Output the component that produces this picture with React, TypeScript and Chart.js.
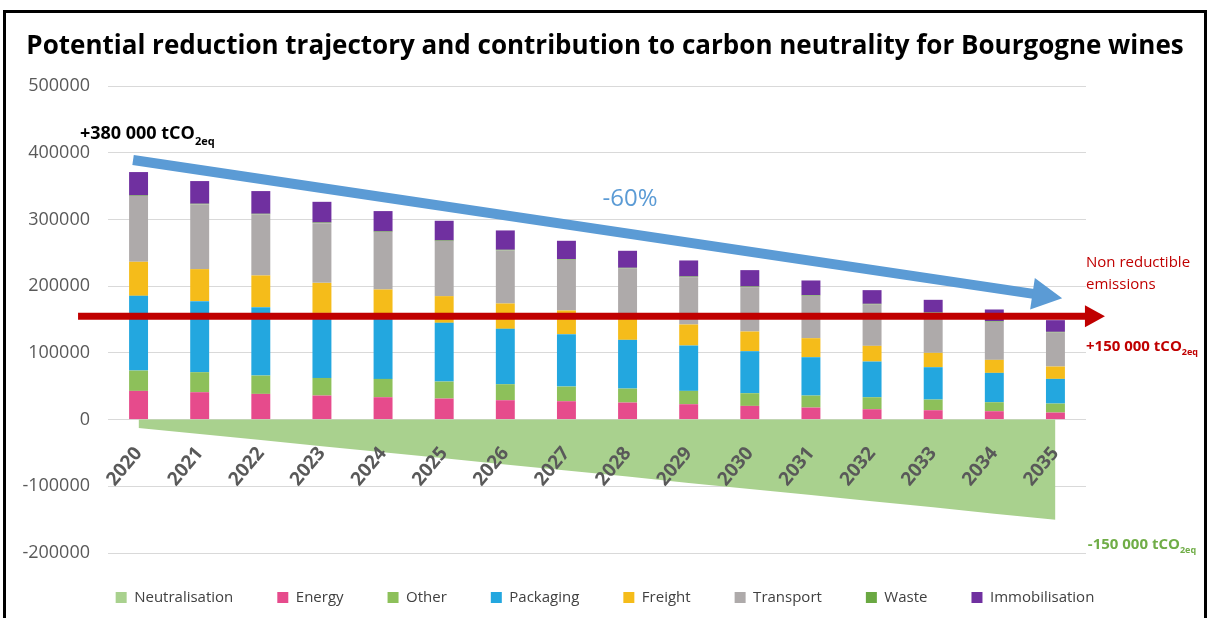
import React, { useEffect, useRef } from "react";
import { Chart, registerables } from "chart.js";

Chart.register(...registerables);

// ---- Data ----
const years = ["2020", "2021", "2022", "2023", "2024", "2025", "2026", "2027", "2028", "2029", "2030", "2031", "2032", "2033", "2034", "2035"];
const energy = [43000, 41000, 38500, 36000, 33500, 31500, 29000, 27500, 25500, 23000, 20500, 18000, 15500, 14000, 12500, 10500];
const other = [30500, 30000, 27500, 26400, 27500, 25500, 24000, 22000, 21000, 20000, 19000, 18000, 18000, 16000, 13500, 13500];
const packaging = [112000, 106500, 102500, 97500, 91000, 88000, 83000, 78500, 73000, 68000, 63000, 57500, 53500, 48500, 44000, 37000];
const freight = [51000, 48000, 47500, 45000, 43000, 40000, 38000, 35500, 31500, 31500, 29500, 28500, 23500, 21500, 19500, 18500];
const transport = [98500, 97000, 91500, 89500, 86000, 82500, 79500, 76000, 75500, 71000, 66500, 63500, 62000, 59500, 57000, 51000];
const waste = [1000, 1000, 1000, 1000, 1000, 1000, 1000, 1000, 1000, 1000, 1000, 1000, 1000, 1000, 1000, 1000];
const immobilisation = [35000, 34000, 34000, 31000, 30500, 29500, 29000, 27500, 25500, 24000, 24500, 22000, 20500, 19000, 17500, 17500];
const neutralisation = [-12500, -21500, -30500, -40000, -49000, -58000, -67500, -76500, -85500, -95000, -104000, -113000, -122500, -131500, -141000, -150000];

const yMin = -200000;
const yMax = 500000;
const yStep = 100000;

const TITLE = "Potential reduction trajectory and contribution to carbon neutrality for Bourgogne wines";

// ---- Annotations (in data coordinates: x = category index, y = value) ----
const reductionArrow = { from: [-0.09, 389000], to: [15.11, 182000], color: "#5b9bd5", width: 10, headLen: 30, headHalf: 16 };
const floorArrow = { from: [-0.99, 155000], to: [15.81, 155000], color: "#c00000", width: 7, headLen: 20, headHalf: 11 };
const notes = [
  { x: -0.96, y: 420000, main: "+380 000 tCO", sub: "2eq", color: "#000000", size: 18, bold: true, align: "left" },
  { x: 8.04, y: 320000, main: "-60%", sub: "", color: "#5b9bd5", size: 24, bold: false, align: "center" },
  { x: 15.5, y: 228700, main: "Non reductible", sub: "", color: "#c00000", size: 15, bold: false, align: "left" },
  { x: 15.5, y: 195700, main: "emissions", sub: "", color: "#c00000", size: 15, bold: false, align: "left" },
  { x: 15.5, y: 103000, main: "+150 000 tCO", sub: "2eq", color: "#c00000", size: 15, bold: true, align: "left" },
  { x: 15.53, y: -194000, main: "-150 000 tCO", sub: "2eq", color: "#70ad47", size: 15, bold: true, align: "left" },
];

const FONT = "'Open Sans', 'DejaVu Sans', sans-serif";

function drawArrow(ctx: CanvasRenderingContext2D, x1: number, y1: number, x2: number, y2: number, a: any) {
  const dx = x2 - x1;
  const dy = y2 - y1;
  const len = Math.sqrt(dx * dx + dy * dy);
  const ux = dx / len;
  const uy = dy / len;
  const bx = x2 - ux * a.headLen;
  const by = y2 - uy * a.headLen;
  ctx.save();
  ctx.strokeStyle = a.color;
  ctx.fillStyle = a.color;
  ctx.lineWidth = a.width;
  ctx.lineCap = "butt";
  ctx.beginPath();
  ctx.moveTo(x1, y1);
  ctx.lineTo(bx + ux * 1, by + uy * 1);
  ctx.stroke();
  ctx.beginPath();
  ctx.moveTo(x2, y2);
  ctx.lineTo(bx - uy * a.headHalf, by + ux * a.headHalf);
  ctx.lineTo(bx + uy * a.headHalf, by - ux * a.headHalf);
  ctx.closePath();
  ctx.fill();
  ctx.restore();
}

const annotationPlugin = {
  id: "annotations",
  afterDatasetsDraw(chart: any) {
    const { ctx, scales } = chart;
    const xs = scales.x;
    const ys = scales.y;
    const px = (v: number) => xs.getPixelForValue(v);
    const py = (v: number) => ys.getPixelForValue(v);

    drawArrow(ctx, px(floorArrow.from[0]), py(floorArrow.from[1]), px(floorArrow.to[0]), py(floorArrow.to[1]), floorArrow);
    drawArrow(ctx, px(reductionArrow.from[0]), py(reductionArrow.from[1]), px(reductionArrow.to[0]), py(reductionArrow.to[1]), reductionArrow);

    ctx.save();
    for (const n of notes) {
      const weight = n.bold ? "bold " : "";
      const subSize = Math.round(n.size * 0.6);
      ctx.font = `${weight}${n.size}px ${FONT}`;
      ctx.fillStyle = n.color;
      ctx.textBaseline = "alphabetic";
      const mainW = ctx.measureText(n.main).width;
      ctx.font = `${weight}${subSize}px ${FONT}`;
      const subW = n.sub ? ctx.measureText(n.sub).width : 0;
      const total = mainW + subW;
      let x = px(n.x);
      if (n.align === "center") x -= total / 2;
      const y = py(n.y);
      ctx.textAlign = "left";
      ctx.font = `${weight}${n.size}px ${FONT}`;
      ctx.fillText(n.main, x, y);
      if (n.sub) {
        ctx.font = `${weight}${subSize}px ${FONT}`;
        ctx.fillText(n.sub, x + mainW, y + n.size * 0.3);
      }
    }
    ctx.restore();
  },
};

// Nudges the legend row up a little, since its padding also sets the spacing between items.
const legendNudge = {
  id: "legendNudge",
  afterLayout(chart: any) {
    const lg = chart.legend;
    if (lg) {
      lg.top -= 7;
      lg.bottom -= 7;
    }
  },
};

export default function App() {
  const ref = useRef<HTMLCanvasElement>(null);

  useEffect(() => {
    const barDs = (label: string, data: number[], color: string) => ({
      type: "bar" as const,
      label,
      data,
      backgroundColor: color,
      borderWidth: 0,
      stack: "emissions",
      categoryPercentage: 1,
      barPercentage: 0.31,
    });

    const chart = new Chart(ref.current as HTMLCanvasElement, {
      type: "bar",
      data: {
        labels: years,
        datasets: [
          {
            type: "line" as const,
            label: "Neutralisation",
            data: neutralisation,
            backgroundColor: "#a9d18e",
            borderColor: "#a9d18e",
            borderWidth: 0,
            pointRadius: 0,
            fill: "origin",
            stack: "neutral",
            tension: 0,
          } as any,
          barDs("Energy", energy, "#e64b8c"),
          barDs("Other", other, "#8dc05a"),
          barDs("Packaging", packaging, "#23a7df"),
          barDs("Freight", freight, "#f5bc1a"),
          barDs("Transport", transport, "#aeaaaa"),
          barDs("Waste", waste, "#6aa842"),
          barDs("Immobilisation", immobilisation, "#7030a0"),
        ],
      },
      options: {
        animation: false,
        responsive: true,
        maintainAspectRatio: false,
        layout: { padding: { top: 0, left: 0, right: 0, bottom: 5 } },
        plugins: {
          title: {
            display: true,
            text: TITLE,
            color: "#000000",
            font: { family: FONT, size: 26, weight: "bold" },
            padding: { top: 18.4, bottom: 23.4 },
          },
          legend: {
            position: "bottom",
            labels: {
              boxWidth: 11,
              boxHeight: 11,
              padding: 44,
              color: "#404040",
              font: { family: FONT, size: 15 },
            },
          },
          tooltip: { enabled: false },
        },
        scales: {
          x: {
            type: "category",
            stacked: true,
            position: { y: 0 } as any,
            grid: { display: false },
            border: { display: false },
            ticks: {
              z: 1,
              color: "#595959",
              font: { family: FONT, size: 19, weight: "bold" },
              minRotation: 50,
              maxRotation: 50,
              padding: 15,
              autoSkip: false,
            },
          },
          y: {
            type: "linear",
            stacked: true,
            min: yMin,
            max: yMax,
            position: "left",
            grid: { color: "#d9d9d9", lineWidth: 1, drawTicks: false },
            border: { display: false },
            ticks: {
              stepSize: yStep,
              color: "#595959",
              font: { family: FONT, size: 18 },
              padding: 18,
              callback: (v: any) => String(v),
            },
            afterFit: (s: any) => {
              s.width = 102;
            },
          },
          yr: {
            type: "linear",
            position: "right",
            display: true,
            grid: { display: false },
            border: { display: false },
            ticks: { display: false },
            afterFit: (s: any) => {
              s.width = 118;
            },
          },
        },
      } as any,
      plugins: [annotationPlugin, legendNudge],
    });
    return () => chart.destroy();
  }, []);

  return (
    <div
      style={{
        position: "absolute",
        left: 3,
        top: 10,
        width: 1204,
        height: 620,
        border: "3px solid #000",
        boxSizing: "border-box",
        background: "#fff",
      }}
    >
      <div style={{ position: "relative", width: 1198, height: 614 }}>
        <canvas ref={ref} />
      </div>
    </div>
  );
}
